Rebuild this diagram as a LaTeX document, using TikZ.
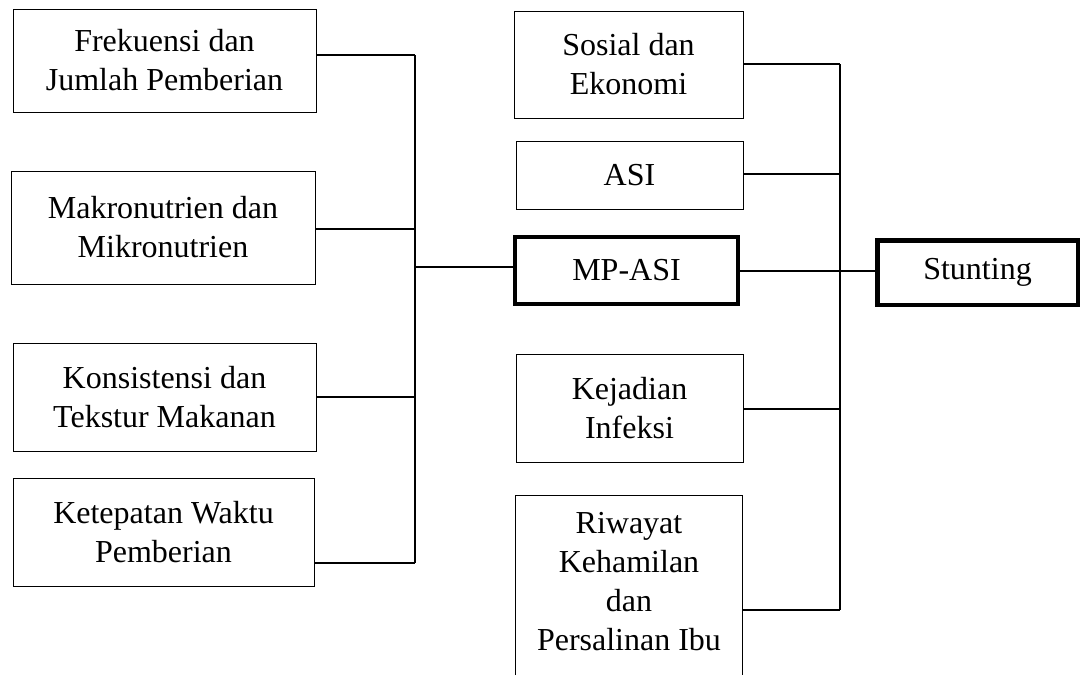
\documentclass[tikz,border=0pt]{standalone}
\usepackage{fontspec}
\setmainfont{Liberation Serif}
\begin{document}
\begin{tikzpicture}[x=1pt,y=-1pt,
  box/.style={draw, line width=1pt, inner sep=0pt, align=center,
    font=\fontsize{32}{39}\selectfont},
  boldbox/.style={box, line width=4.5pt},
  conn/.style={line width=1.2pt}]
\useasboundingbox (0,0) rectangle (1089,675);
% left column
\node[box, minimum width=303pt, minimum height=103pt] (fre) at (164.5,60.5) {Frekuensi dan\\Jumlah Pemberian};
\node[box, minimum width=304pt, minimum height=113pt] (mak) at (163,227.5) {Makronutrien dan\\Mikronutrien};
\node[box, minimum width=303pt, minimum height=108pt] (kon) at (164.5,397) {Konsistensi dan\\Tekstur Makanan};
\node[box, minimum width=301pt, minimum height=108pt] (ket) at (163.5,532) {Ketepatan Waktu\\Pemberian};
% middle column
\node[box, minimum width=229pt, minimum height=107pt] (sos) at (628.5,64.5) {Sosial dan\\Ekonomi};
\node[box, minimum width=227pt, minimum height=68pt] (asi) at (629.5,175) {ASI};
\node[boldbox, minimum width=222.6pt, minimum height=66.6pt] (mp) at (626.5,270.5) {MP-ASI};
\node[box, minimum width=227pt, minimum height=108pt] (kej) at (629.5,408) {Kejadian\\Infeksi};
\node[box, draw=none, minimum width=226pt, minimum height=172pt] (riw) at (629,582) {Riwayat\\Kehamilan\\dan\\Persalinan Ibu};
\draw[line width=1pt] (riw.west |- 0,675) -- (riw.north west) -- (riw.north east) -- (riw.east |- 0,675);
% right
\node[boldbox, minimum width=200.5pt, minimum height=64.5pt] (stu) at (977.5,272.5) {Stunting};
% left bus
\coordinate (lt) at (415,55);
\coordinate (lb) at (415,563);
\coordinate (lm) at (415,267);
\draw[conn] (lt) -- (lb);
\draw[conn] (fre.east |- lt) -- (lt);
\draw[conn] (mak.east |- 0,229) -- (lt |- 0,229);
\draw[conn] (kon.east |- 0,397) -- (lt |- 0,397);
\draw[conn] (ket.east |- lb) -- (lb);
\draw[conn] (lm) -- (mp.west |- lm);
% right bus
\coordinate (rt) at (840,64);
\coordinate (rb) at (840,610);
\draw[conn] (rt) -- (rb);
\draw[conn] (sos.east |- rt) -- (rt);
\draw[conn] (asi.east |- 0,174) -- (rt |- 0,174);
\draw[conn] (kej.east |- 0,409) -- (rt |- 0,409);
\draw[conn] (riw.east |- rb) -- (rb);
\draw[conn] (mp.east |- 0,271) -- (stu.west |- 0,271);
\end{tikzpicture}
\end{document}
